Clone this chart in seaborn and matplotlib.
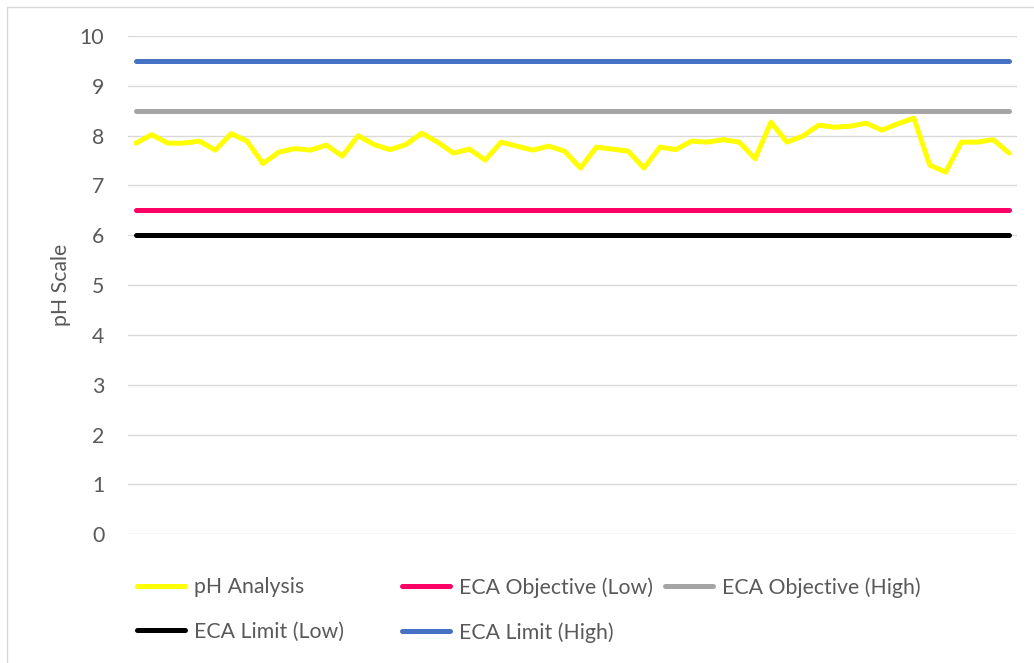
import numpy as np
import pandas as pd
import seaborn as sns
import matplotlib.pyplot as plt
from matplotlib.lines import Line2D

# pH readings, one per sample
ph_values = [7.85, 8.02, 7.85, 7.85, 7.89, 7.71, 8.04, 7.89, 7.44, 7.67,
             7.74, 7.71, 7.81, 7.59, 8.00, 7.82, 7.72, 7.82, 8.05, 7.87,
             7.65, 7.73, 7.51, 7.87, 7.79, 7.71, 7.79, 7.69, 7.35, 7.77,
             7.73, 7.69, 7.35, 7.77, 7.72, 7.89, 7.87, 7.92, 7.87, 7.54,
             8.27, 7.87, 7.99, 8.21, 8.17, 8.19, 8.25, 8.11, 8.24, 8.35,
             7.41, 7.27, 7.87, 7.87, 7.92, 7.65]
samples = list(range(len(ph_values)))

# ECA thresholds
eca_obj_low = 6.5
eca_obj_high = 8.5
eca_lim_low = 6.0
eca_lim_high = 9.5

series_names = ["pH Analysis", "ECA Objective (Low)", "ECA Objective (High)",
                "ECA Limit (Low)", "ECA Limit (High)"]
series_colors = ["#FFFF00", "#FF0066", "#A5A5A5", "#000000", "#4472C4"]
y_ticks = list(range(0, 11))

df = pd.DataFrame({
    "sample": samples,
    "pH Analysis": ph_values,
    "ECA Objective (Low)": [eca_obj_low] * len(samples),
    "ECA Objective (High)": [eca_obj_high] * len(samples),
    "ECA Limit (Low)": [eca_lim_low] * len(samples),
    "ECA Limit (High)": [eca_lim_high] * len(samples),
})

sns.set_style("white")
plt.rcParams['font.family'] = ['Lato', 'DejaVu Sans']
text_color = "#595959"
fs = 15.3

fig = plt.figure(figsize=(10.34, 6.63), dpi=100)
ax = fig.add_axes([0.1238, 0.1941, 0.9836 - 0.1238, 0.9457 - 0.1941])

# draw order: thresholds under the pH line
draw_order = [4, 2, 1, 3, 0]
for i in draw_order:
    sns.lineplot(data=df, x="sample", y=series_names[i], ax=ax,
                 color=series_colors[i], linewidth=3.6,
                 solid_capstyle="round", solid_joinstyle="round",
                 zorder=3 + (i == 0))

ax.set_xlim(-0.5, len(samples) - 0.5)
ax.set_ylim(0, 10)
ax.set_yticks(y_ticks)
ax.set_xticks([])
ax.yaxis.grid(True, color="#D9D9D9", linewidth=1.0)
ax.set_axisbelow(True)
for s in ax.spines.values():
    s.set_visible(False)
ax.tick_params(axis="y", length=0, pad=17, labelsize=fs, labelcolor=text_color)
ax.set_xlabel("")
ax.set_ylabel("pH Scale", fontsize=fs, color=text_color, labelpad=6)

# legend in Excel-like fixed columns
handles = [Line2D([0], [0], color=c, linewidth=3.6, solid_capstyle="round")
           for c in series_colors]
columns = [[0, 3], [1, 4], [2]]
col_x = [137 / 1034, 402 / 1034, 665 / 1034]
for cx, idx in zip(col_x, columns):
    fig.legend([handles[i] for i in idx], [series_names[i] for i in idx],
               loc="upper left", bbox_to_anchor=(cx, 1 - 577 / 663),
               frameon=False, fontsize=fs, labelcolor=text_color,
               handlelength=2.25, handletextpad=0.42, labelspacing=1.15,
               borderpad=0, borderaxespad=0)

# chart border (top and left edges visible in the screenshot)
fig.add_artist(Line2D([7 / 1034, 7 / 1034], [0, 1 - 7 / 663],
                      transform=fig.transFigure, color="#D9D9D9", linewidth=1))
fig.add_artist(Line2D([7 / 1034, 1], [1 - 7 / 663, 1 - 7 / 663],
                      transform=fig.transFigure, color="#D9D9D9", linewidth=1))

fig.savefig("out.png", dpi=100)
